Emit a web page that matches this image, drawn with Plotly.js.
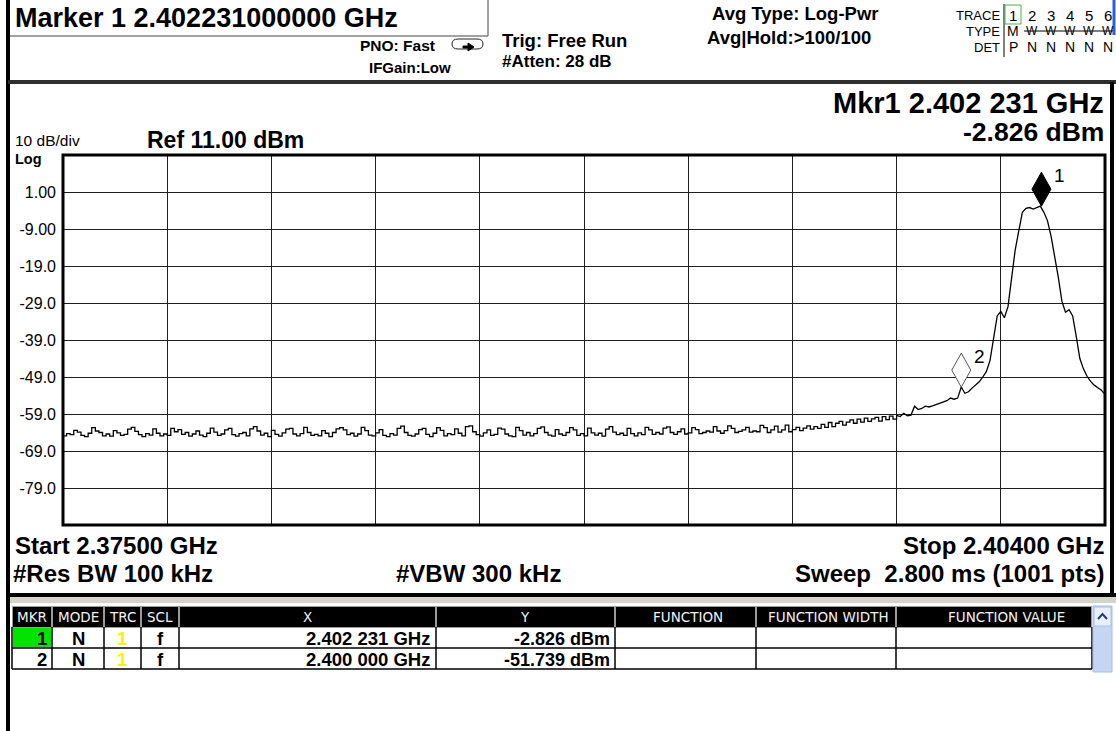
<!DOCTYPE html>
<html><head><meta charset="utf-8">
<script src="https://cdn.plot.ly/plotly-3.0.1.min.js"></script>
<style>html,body{margin:0;padding:0;background:#fff;overflow:hidden}#chart{width:1116px;height:731px}</style>
</head><body><div id="chart"></div>
<script>
// ---------------- data ----------------
const startGHz = 2.375;
const stopGHz = 2.404;
const refLevelDbm = 11;
const bottomLevelDbm = -89;

// trace 1 (100 kHz steps); noise floor part 2.3750 .. 2.3982 GHz
const noiseFloorDbm = [
-64.9,-64.3,-64.6,-63.4,-63.9,-64.8,-65.1,-64.2,-62.7,-63.6,
-64.0,-64.9,-64.4,-65.0,-63.5,-64.1,-64.8,-64.5,-63.1,-62.6,
-63.7,-64.6,-65.1,-64.3,-64.7,-63.0,-64.2,-64.9,-64.4,-64.8,
-62.9,-63.8,-63.2,-64.5,-64.0,-65.0,-64.4,-63.6,-64.7,-65.1,
-64.2,-62.8,-63.9,-64.8,-64.4,-63.3,-62.9,-64.6,-65.0,-64.3,
-64.0,-64.9,-63.0,-62.4,-63.6,-64.7,-64.2,-65.1,-63.4,-64.5,
-65.0,-64.1,-63.1,-62.9,-64.4,-64.9,-64.3,-62.6,-64.0,-64.8,
-64.5,-64.9,-63.5,-64.2,-65.1,-64.0,-63.0,-62.7,-63.3,-64.6,
-64.2,-65.0,-64.4,-62.6,-63.5,-64.7,-64.9,-64.1,-63.2,-64.8,
-65.1,-64.3,-64.7,-62.9,-62.3,-64.0,-64.8,-65.0,-64.4,-63.2,
-62.9,-64.5,-65.1,-64.2,-62.7,-63.4,-64.9,-64.3,-64.6,-63.0,
-64.2,-64.9,-62.4,-62.2,-63.8,-64.6,-65.0,-64.1,-63.3,-64.8,
-64.5,-62.8,-63.1,-64.4,-64.9,-65.1,-62.6,-63.5,-64.7,-64.0,
-64.9,-64.3,-62.9,-62.5,-64.0,-64.7,-65.0,-63.2,-64.4,-64.8,
-64.0,-62.7,-63.3,-64.8,-64.3,-64.9,-62.8,-64.1,-64.7,-64.2,
-65.0,-63.1,-62.4,-63.9,-64.6,-64.2,-64.8,-62.9,-64.3,-64.9,
-64.1,-64.6,-62.6,-63.3,-64.5,-64.0,-64.4,-62.8,-62.5,-64.0,
-64.5,-63.8,-63.0,-64.4,-64.1,-62.7,-63.2,-64.3,-64.0,-63.6,
-63.9,-62.4,-63.6,-64.2,-63.5,-62.2,-62.9,-64.0,-63.7,-63.3,
-62.6,-63.9,-63.6,-63.8,-62.1,-62.7,-64.0,-63.3,-62.3,-63.9,
-63.3,-62.0,-63.8,-63.2,-62.6,-63.5,-62.8,-62.2,-63.1,-62.4,
-62.9,-61.8,-62.6,-61.3,-62.4,-61.5,-61.0,-62.0,-61.2,-60.6,
-61.5,-60.4,-61.2,-60.1,-61.0,-60.3,-59.9,-60.9,-59.7,-60.5,
-59.6,-60.4,-59.4
];
// carrier part 2.3983 .. 2.4040 GHz
const carrierDbm = [
-59.7,-58.8,-59.5,-59.3,-56.9,-57.8,-57.5,-56.9,-57.1,-56.8,
-56.5,-56.1,-55.7,-55.4,-54.7,-55.0,-54.7,-51.7,-53.4,-53.0,
-52.0,-51.2,-50.3,-49.0,-47.5,-44.5,-39.0,-32.5,-31.3,-33.0,
-30.0,-23.0,-14.7,-9.5,-4.5,-3.4,-3.2,-3.6,-3.3,-2.83,
-4.5,-6.8,-11.0,-16.0,-22.0,-28.5,-31.5,-30.8,-32.5,-38.0,
-44.0,-46.8,-48.8,-50.2,-51.2,-51.9,-52.6,-53.7
];

const yTickVals = [1, -9, -19, -29, -39, -49, -59, -69, -79];
const yTickText = ['1.00', '-9.00', '-19.0', '-29.0', '-39.0', '-49.0', '-59.0', '-69.0', '-79.0'];

const markerNames = ['1', '2'];
const markerFreqGHz = [2.402231, 2.400000];
const markerDbm = [-2.826, -51.739];

const tableHeaders = ['MKR', 'MODE', 'TRC', 'SCL', 'X', 'Y', 'FUNCTION', 'FUNCTION WIDTH', 'FUNCTION VALUE'];
const tableModes = ['N', 'N'];
const tableTraces = ['1', '1'];
const tableScales = ['f', 'f'];
const tableX = ['2.402 231 GHz', '2.400 000 GHz'];
const tableY = ['-2.826 dBm', '-51.739 dBm'];

const traceNums = ['1', '2', '3', '4', '5', '6'];
const traceTypes = ['M', 'W', 'W', 'W', 'W', 'W'];
const traceDets = ['P', 'N', 'N', 'N', 'N', 'N'];

// ---------------- build ----------------
const powerDbm = noiseFloorDbm.concat(carrierDbm);
const nPts = powerDbm.length;
const freqGHz = powerDbm.map((_, i) => startGHz + i * (stopGHz - startGHz) / (nPts - 1));
const nNoise = noiseFloorDbm.length;

const W = 1116, H = 731, L = 63, R = 1105, T = 155, B = 525;
const fx = p => (p - L) / (R - L);
const fy = p => (B - p) / (B - T);
const FONT = 'Liberation Sans, Arial, Helvetica, sans-serif';
const TFONT = 'DejaVu Sans, Verdana, sans-serif';

const ann = [];
function txt(t, px, py, size, opts) {
  opts = opts || {};
  ann.push({
    text: t, xref: 'paper', yref: 'paper', x: fx(px), y: fy(py),
    xanchor: opts.xa || 'left', yanchor: 'middle', showarrow: false,
    font: {family: opts.family || FONT, size: size, color: opts.color || '#000', weight: opts.bold ? 700 : 400}
  });
}
const shp = [];
function rect(x0, y0, x1, y1, fill, lc, lw) {
  shp.push({type: 'rect', xref: 'paper', yref: 'paper', x0: fx(x0), x1: fx(x1), y0: fy(y0), y1: fy(y1),
    fillcolor: fill || 'rgba(0,0,0,0)', line: {color: lc || 'rgba(0,0,0,0)', width: lw == null ? 0 : lw}, layer: 'above'});
}
function seg(x0, y0, x1, y1, lc, lw) {
  shp.push({type: 'line', xref: 'paper', yref: 'paper', x0: fx(x0), x1: fx(x1), y0: fy(y0), y1: fy(y1),
    line: {color: lc || '#000', width: lw || 1}, layer: 'above'});
}
function poly(pts, fill, lc, lw) {
  shp.push({type: 'path', xref: 'paper', yref: 'paper', layer: 'above',
    fillcolor: fill || 'rgba(0,0,0,0)', line: {color: lc || '#000', width: lw || 1},
    path: pts.map((p, i) => (i ? 'L' : 'M') + fx(p[0]) + ',' + fy(p[1])).join(' ') + (fill ? ' Z' : '')});
}

// ---- header area ----
seg(8, 0, 8, 731, '#000', 4);
seg(10, 36, 488, 36, '#444', 1);
seg(488, 0, 488, 36, '#444', 1);
txt('Marker 1 2.402231000000 GHz', 13, 18, 27, {bold: true});
txt('PNO: Fast', 358, 46, 15.5, {bold: true});
txt('IFGain:Low', 367, 67, 15, {bold: true});
// small sweep icon
shp.push({type: 'path', xref: 'paper', yref: 'paper', layer: 'above', line: {color: '#222', width: 1},
  path: 'M' + fx(458) + ',' + fy(39) + ' L' + fx(477) + ',' + fy(39) + ' Q' + fx(483) + ',' + fy(39) + ' ' + fx(483) + ',' + fy(44) +
        ' Q' + fx(483) + ',' + fy(49) + ' ' + fx(477) + ',' + fy(49) + ' L' + fx(458) + ',' + fy(49) + ' Q' + fx(452) + ',' + fy(49) + ' ' + fx(452) + ',' + fy(44) +
        ' Q' + fx(452) + ',' + fy(39) + ' ' + fx(458) + ',' + fy(39)});
poly([[463, 46], [468, 46], [468, 43], [474, 47], [468, 51], [468, 48], [463, 48]], '#000', '#000', 1);
txt('Trig: Free Run', 500, 40, 18.5, {bold: true});
txt('#Atten: 28 dB', 500, 62, 17, {bold: true});
txt('Avg Type: Log-Pwr', 710, 14, 18.5, {bold: true});
txt('Avg|Hold:>100/100', 705, 38, 18.5, {bold: true});

txt('TRACE', 1002, 15, 13, {xa: 'right'});
txt('TYPE', 1002, 31, 13, {xa: 'right'});
txt('DET', 1002, 47, 13, {xa: 'right'});
seg(1004, 4, 1004, 57, '#000', 1);
rect(1005, 5, 1021, 24, null, '#49b649', 1);
const digitX = [1013, 1032, 1051, 1070, 1089, 1108];
traceNums.forEach((d, i) => txt(d, digitX[i], 15, 15, {xa: 'center'}));
traceTypes.forEach((d, i) => txt(d, digitX[i], 31, i ? 12 : 14, {xa: 'center'}));
traceDets.forEach((d, i) => txt(d, digitX[i], 47, 14, {xa: 'center'}));
seg(1024, 31, 1114, 31, '#000', 1);
seg(1114, 0, 1114, 35, '#2a62d6', 3);

// ---- measurement panel frame ----
seg(8, 82, 1116, 82, '#2e2e2e', 4);
seg(1112, 82, 1112, 596, '#000', 4);
seg(8, 595, 1116, 595, '#000', 4);
rect(10, 597, 1116, 603, '#d6d3cc', null, 0);

txt('Mkr1 2.402 231 GHz', 1106, 103, 29, {bold: true, xa: 'right'});
txt('-2.826 dBm', 1106, 132, 26.5, {bold: true, xa: 'right'});
txt('10 dB/div', 13, 140, 15.5);
txt('Ref 11.00 dBm', 145, 140, 23, {bold: true});
txt('Log', 13, 159, 14.5, {bold: true});
txt('Start 2.37500 GHz', 13, 545, 24, {bold: true});
txt('Stop 2.40400 GHz', 1106, 545, 24, {bold: true, xa: 'right'});
txt('#Res BW 100 kHz', 11, 573, 24, {bold: true});
txt('#VBW 300 kHz', 478, 573, 24, {bold: true, xa: 'center'});
txt('Sweep  2.800 ms (1001 pts)', 1107, 573, 24, {bold: true, xa: 'right'});

// plot border
shp.push({type: 'rect', xref: 'paper', yref: 'paper', x0: 0, x1: 1, y0: 0, y1: 1, line: {color: '#000', width: 3}, layer: 'above'});

// ---- markers (diamonds anchored on trace values) ----
markerNames.forEach((m, i) => {
  shp.push({type: 'path', xref: 'x', yref: 'y', xsizemode: 'pixel', ysizemode: 'pixel',
    xanchor: markerFreqGHz[i], yanchor: markerDbm[i], layer: 'above',
    path: 'M0,0 L9.5,17 L0,34 L-9.5,17 Z',
    fillcolor: i === 0 ? '#000' : '#fff', line: {color: i === 0 ? '#000' : '#555', width: 1}});
  ann.push({text: m, xref: 'x', yref: 'y', x: markerFreqGHz[i], y: markerDbm[i], xanchor: 'left', yanchor: 'middle',
    xshift: 11, yshift: 31, showarrow: false, font: {family: FONT, size: 19, color: '#000'}});
});

// ---- marker table ----
const colEdges = [12, 52, 104, 141, 179, 436, 615, 756, 896, 1092];
const hdrCenters = [32, 78, 122, 160, 307, 525, 688, 828, 1006];
const rowTop = [627, 648], rowBot = [648, 669];
rect(12, 606, 1092, 628, '#9a9a9a', null, 0);
for (let c = 0; c < tableHeaders.length; c++) {
  rect(colEdges[c] + 1, 607, colEdges[c + 1] - 1, 627, '#000', null, 0);
  txt(tableHeaders[c], hdrCenters[c], 617, 13.5, {xa: 'center', color: '#f2f2f2', family: TFONT});
}
rect(13, 628, 51, 647, '#00e400', null, 0);
seg(12, 648, 1092, 648, '#000', 1.5);
seg(12, 669, 1092, 669, '#000', 1.5);
colEdges.forEach(x => seg(x, 627, x, 669, '#000', 1.5));
for (let r = 0; r < 2; r++) {
  const yc = (rowTop[r] + rowBot[r]) / 2 + 1;
  txt(markerNames[r], 49, yc, 18.5, {bold: true, xa: 'right'});
  txt(tableModes[r], 78, yc, 18.5, {bold: true, xa: 'center'});
  txt(tableTraces[r], 122, yc, 18.5, {bold: true, xa: 'center', color: '#f5f500'});
  txt(tableScales[r], 160, yc, 18.5, {bold: true, xa: 'center'});
  txt(tableX[r], 432, yc, 18.5, {bold: true, xa: 'right'});
  txt(tableY[r], 612, yc, 18, {bold: true, xa: 'right'});
}
rect(1093, 606, 1112, 672, '#c4d6f4', '#a8bfe4', 1);
rect(1094, 607, 1111, 626, '#e9effa', '#a8bfe4', 1);
poly([[1098, 619], [1102.5, 614], [1107, 619]], null, '#2a3f66', 2);

// ---------------- plot ----------------
const data = [
  {type: 'scatter', mode: 'lines', x: freqGHz.slice(0, nNoise), y: powerDbm.slice(0, nNoise),
   line: {color: '#000', width: 1.3, shape: 'hv'}, hoverinfo: 'skip'},
  {type: 'scatter', mode: 'lines', x: freqGHz.slice(nNoise - 1), y: powerDbm.slice(nNoise - 1),
   line: {color: '#000', width: 1.3, shape: 'linear'}, hoverinfo: 'skip'}
];

const layout = {
  width: W, height: H,
  margin: {l: L, r: W - R, t: T, b: H - B, pad: 0},
  paper_bgcolor: '#fff', plot_bgcolor: '#fff',
  font: {family: FONT, color: '#000', size: 14},
  showlegend: false,
  xaxis: {range: [startGHz, stopGHz], tick0: startGHz, dtick: (stopGHz - startGHz) / 10,
    showticklabels: false, ticks: '', showgrid: true, gridcolor: '#1e1e1e', gridwidth: 1,
    zeroline: false, showline: false, fixedrange: true},
  yaxis: {range: [bottomLevelDbm, refLevelDbm], tickmode: 'array', tickvals: yTickVals, ticktext: yTickText,
    ticks: '', showgrid: true, gridcolor: '#1e1e1e', gridwidth: 1, zeroline: false, showline: false,
    tickfont: {family: FONT, size: 16, color: '#000'}, ticklabelstandoff: 6, fixedrange: true},
  shapes: shp,
  annotations: ann
};

Plotly.newPlot('chart', data, layout, {displayModeBar: false, staticPlot: true});
</script>
</body></html>
